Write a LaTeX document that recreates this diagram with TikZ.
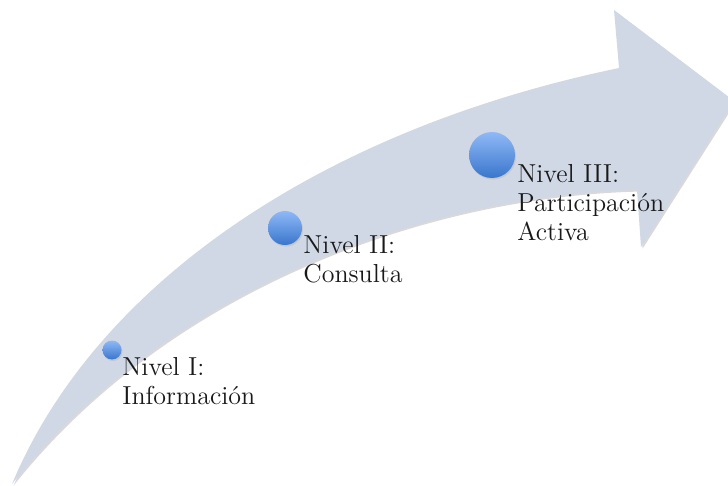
\documentclass[tikz,border=0pt]{standalone}
\usepackage{tikz}
\usetikzlibrary{positioning,calc}
\definecolor{flecha}{RGB}{208,216,230}
\definecolor{azulclaro}{RGB}{143,185,247}
\definecolor{azuloscuro}{RGB}{58,118,204}

\begin{document}
\begin{tikzpicture}[x=0.5pt,y=-0.5pt,point/.style = {circle, inner sep = 0pt, top color=azulclaro, bottom color=azuloscuro, preaction={fill=black!22, transform canvas={xshift=0.5pt,yshift=-0.8pt}}},
texto/.style = {anchor=north west, align=left, inner sep=0pt, font=\fontsize{13}{14.5}\selectfont, text=black!90},]
\useasboundingbox (0,0) rectangle (728,486);
\clip (0,0) rectangle (728,486);
%Drawing the arrow
\path[fill=flecha, preaction={fill=black!15, transform canvas={xshift=0.8pt,yshift=-0.8pt}}] (12,484) .. controls (95,285) and (320,130) .. (619,68) -- (614,10) -- (734,101) -- (641,247) -- (637,190) .. controls (430,195) and (170,285) .. (12,484) -- cycle;
%Levels
\node (N1) at (112,350)[point,minimum size=9.5pt] {};
\node (N2) at (285,228)[point,minimum size=17pt] {};
\node (N3) at (492,155)[point,minimum size=23pt] {};
\node (T1) at (122,357)[texto] {Nivel I:\\Información};
\node (T2) at (303,235)[texto] {Nivel II:\\Consulta};
\node (T3) at (517,164)[texto] {Nivel III:\\Participación\\Activa};
\end{tikzpicture}
\end{document}
